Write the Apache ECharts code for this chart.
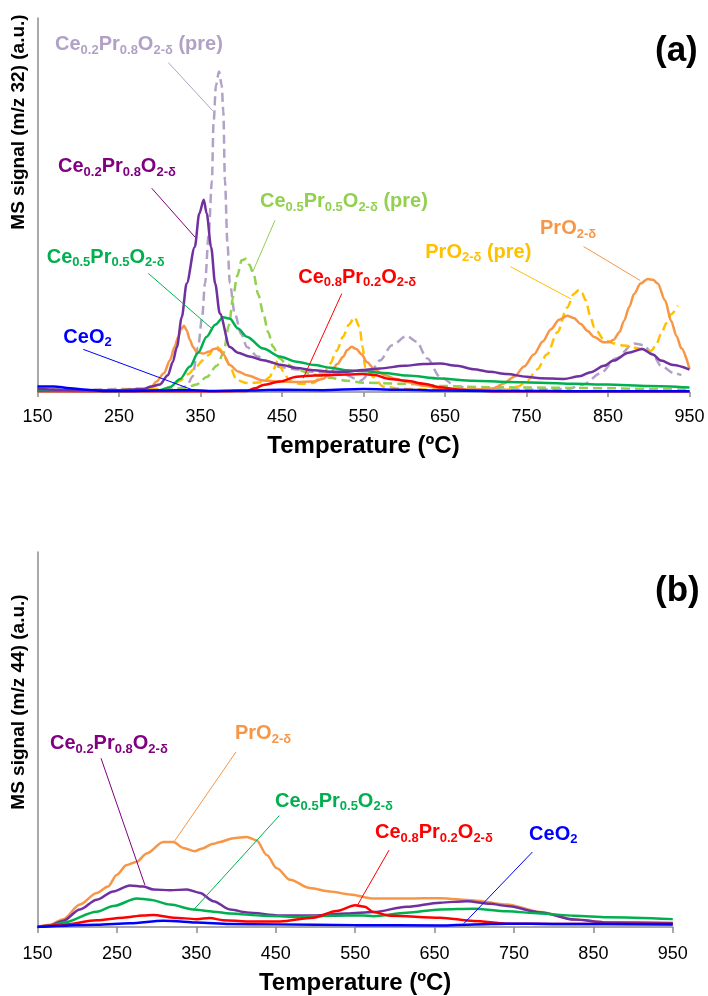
<!DOCTYPE html>
<html><head><meta charset="utf-8">
<script src="https://cdn.jsdelivr.net/npm/echarts@6/dist/echarts.min.js"></script>
<style>html,body{margin:0;padding:0;background:#fff}#c{width:708px;height:996px}</style>
</head><body><div id="c"></div>
<script>
// x-axis tick labels (temperature, ºC)
const xTicks = [150, 250, 350, 450, 550, 650, 750, 850, 950];

// ---------- panel (a): MS signal m/z 32 (a.u., % of axis height) ----------
const a_Ce02Pr08_pre = [[150,0.8],[200,0.5],[250,0.8],[300,0.5],[320,0.8],[333,1.5],[340,4],[347,12],[352,20],[355.5,29],[360,42],[364,56.5],[366,72],[369,82],[372.7,85.7],[376,82],[378,75],[380,56.5],[383,40],[386,29],[392,21],[400,15.5],[407,12],[420,9.5],[435,8],[447,6.7],[468,6],[488,5.4],[509,5],[529,4.5],[546,3],[558,5],[570,8.4],[585,12.5],[603,15],[615,13.5],[628,9],[644,4],[665,1.4],[690,0.8],[750,0.6],[800,0.8],[820,2],[841,5],[860,9],[882,13],[894,12.5],[905,10],[915,7],[931,5],[940,4.5]];
const a_Ce05Pr05_pre = [[150,0.8],[200,0.4],[250,0.3],[300,0.4],[330,0.8],[345,2],[357.6,4],[370,7],[378,10.3],[385,18],[390,25.4],[395,31],[400.5,35.2],[406,35.6],[410,34],[415,31.6],[421,26],[427,21],[433,16],[439,12.1],[447,9],[456,7.4],[470,5.8],[488,4.7],[509,3.8],[530,3.0],[549,2.5],[600,2.2],[650,1.6],[700,1.3],[750,1.2],[800,1.1],[850,1.0],[900,0.8],[950,0.6]];
const a_PrO2_pre = [[150,0.5],[200,0.5],[250,0.5],[272,1],[290,0.8],[305,0.8],[315,1.5],[325,3],[335,4.8],[345,6.8],[353,8.5],[361,10],[365,11.3],[370,12.1],[374,11.5],[378,10.3],[382,8.5],[386,6.8],[394.5,3.2],[407,2.4],[427,2.6],[435,4],[439,5.9],[445,8.5],[451.5,5.5],[458,3.5],[464,2.4],[475,2.2],[488,2.4],[500,4.5],[509,7.6],[517,11],[525,14.8],[532,18],[539,20],[545,17.5],[549,12],[552,6.6],[562,4],[574.5,1.4],[600,0.8],[644,0.6],[685,0.5],[726,0.6],[740,1.5],[751,3.0],[763,6],[775,10],[788,16],[800,22.6],[808,26.2],[814.5,27.3],[818,26.5],[822.7,24.5],[828,20.5],[833,17.3],[845,14],[857,13],[869.6,12.4],[892,11.5],[903,11],[909,12.5],[915,15.5],[922,18.5],[927.5,20.8],[935.7,23.1]];
const a_PrO2 = [[150,0.3],[250,0.3],[280,0.5],[290,1.5],[296,2.8],[305,5],[312.6,8.5],[318,12],[322.8,14.8],[326,16.8],[329.8,17.7],[333,16.5],[337,13.9],[341,12],[345,10.8],[353,10.3],[361,10.8],[366,11.5],[370,11.6],[374,11],[378,10],[386,7.2],[396,5.5],[407,4.5],[427,3.1],[447,2.8],[468,2.7],[488,2.8],[500,3.5],[509,5],[518,7.5],[525,9.4],[530,11.2],[535.5,12.1],[541,11.5],[548,10],[554,8],[564,6],[574.5,4.6],[590,3.5],[603,2.7],[624,1.7],[644,1.0],[665,0.7],[685,0.7],[700,0.8],[710,1.0],[722,2.3],[735,4.1],[747,6.8],[759,10],[770,13.5],[780,16.8],[790,19.3],[800,20.4],[808,19.8],[816.6,18.2],[825,16.3],[833,14.7],[845,13.3],[851,13.3],[857,14],[864,16],[869.6,19],[876,22.7],[882,26.2],[890,29],[898.7,30.2],[905,30],[911,29],[920,24.5],[927.5,19],[934,15],[940,11.7],[950,6.2]];
const a_Ce08Pr02 = [[150,0.3],[300,0.2],[380,0.2],[406.7,0.3],[417,1],[427,1.9],[447.5,2.8],[468,4.1],[490,4.4],[509,4.5],[530,4.7],[549,4.8],[562,4.6],[582,3.5],[603,3.0],[624,2.2],[644,1.3],[665,0.7],[685,0.4],[720,0.2],[800,0.2],[950,0.2]];
const a_Ce05Pr05 = [[150,0.5],[250,0.3],[300,0.5],[312.6,1.3],[325,3.5],[337,6.8],[347,10.5],[357.6,14.8],[368,18],[378,20],[386,19.6],[396,17],[406.7,14.8],[427,11.6],[447,9.5],[468,8.1],[490,7.2],[509,6.5],[530,5.8],[549,5.6],[575,5.1],[603,4.4],[644,3.6],[685,3.0],[726,2.7],[767,2.5],[808,2.2],[849,2.0],[900,1.6],[950,1.2]];
const a_Ce02Pr08 = [[150,0.8],[200,0.5],[250,0.5],[280,0.8],[290,1.5],[300,2],[310,4.5],[316,8],[321,12],[327,20],[333,29],[343,38.8],[348.5,47.7],[354,51.4],[357.6,47.7],[363,38.8],[368,29],[373.7,21],[386,12],[396,10.5],[410,9.5],[427,8.5],[450,7.2],[468,6.4],[490,5.8],[509,5.4],[530,5.4],[549,5.9],[570,6.3],[600,7.0],[624,7.5],[644,7.6],[665,7.0],[685,6.1],[705,5.4],[726,4.8],[750,4.1],[767,3.7],[796,3.5],[815,4.2],[829,5.3],[845,7.0],[857,8.4],[875,10.5],[892,11.5],[905,10],[915,8.4],[930,7.2],[950,6.0]];
const a_CeO2 = [[150,1.5],[170,1.5],[190,1.0],[210,0.6],[230,0.3],[260,0.3],[300,0.4],[340,0.5],[360,0.3],[400,0.4],[450,0.6],[500,0.5],[550,0.8],[600,0.6],[650,0.4],[700,0.3],[750,0.3],[800,0.2],[850,0.2],[900,0.2],[950,0.2]];

// ---------- panel (b): MS signal m/z 44 ----------
const b_PrO2 = [[150,0],[165.7,0.6],[182.5,2.1],[203.5,6.0],[224.6,9.1],[239,10.8],[249.7,13.9],[262,16.5],[275,17.4],[287.5,19.6],[308.4,22.7],[321,22.7],[333.6,21.1],[348.4,20.2],[356.6,20.9],[371.4,22.2],[380,22.7],[396.6,23.7],[413.5,24.0],[426,23.1],[438.7,19.2],[451.3,15.7],[468,12.6],[493,10.4],[518,9.5],[543.6,8.7],[573,7.6],[615,7.6],[657,7.7],[699.5,7.1],[741,6.0],[783.7,4.0],[825.7,2.0],[868,1.2],[910,1.0],[950,1.0]];
const b_Ce02Pr08 = [[150,0],[165,0.4],[182.5,1.7],[203.5,4.7],[224.6,7.3],[245.5,9.5],[266.5,11.1],[283,10.8],[296,10.0],[317,9.8],[338,10.0],[354.7,9.1],[371.4,6.9],[392.5,4.7],[413.5,3.9],[455.4,3.1],[497.4,3.1],[539.4,3.6],[573,4.0],[615,5.4],[657,6.5],[691,6.9],[720,6.2],[741,5.6],[783.7,3.9],[825.7,2.0],[868,1.2],[950,1.1]];
const b_Ce05Pr05 = [[150,0],[165,0.3],[182.5,1.2],[224.6,4.1],[245.5,5.6],[275,7.6],[291.6,7.3],[317,6.0],[346,4.7],[371.4,4.1],[392.5,3.6],[434.3,3.0],[476.3,2.7],[518,3.0],[560,3.1],[573,2.9],[615,3.8],[657,4.7],[699.5,4.9],[741,4.2],[783.7,3.6],[825.7,3.0],[868,2.6],[950,2.1]];
const b_Ce08Pr02 = [[150,0],[163,0.3],[182.5,0.6],[224.6,1.8],[258,2.5],[283,3.1],[296,3.2],[321,2.5],[350.5,2.1],[367,2.4],[384,1.8],[413.5,1.5],[455.4,1.5],[497.4,2.5],[526.8,4.3],[550,5.8],[562,5.4],[573,4.0],[594,3.0],[657,2.5],[699.5,1.6],[741,0.9],[800,0.8],[950,0.8]];
const b_CeO2 = [[150,0],[224.6,0.6],[266.5,1.0],[308.4,1.7],[330,1.5],[350,1.2],[392.5,0.8],[450,0.7],[550,0.5],[657,0.4],[699.5,0.7],[741,0.9],[800,0.8],[950,0.7]];

// ---------- annotation labels (text, anchor [T, signal], leader line) ----------
const annA = {
  Ce02Pr08_pre: {text: [['Ce','0.2'],['Pr','0.8'],['O','2-δ'],[' (pre)','']], at: [171.5,92.8], line: [[310.5,88.1],[365,75.2]]},
  Ce02Pr08:     {text: [['Ce','0.2'],['Pr','0.8'],['O','2-δ']], at: [175.2,60.3], line: [[290.1,54.5],[343.3,41.4]]},
  Ce05Pr05_pre: {text: [['Ce','0.5'],['Pr','0.5'],['O','2-δ'],[' (pre)','']], at: [423,50.9], line: [[441.4,45.9],[414,32.1]]},
  Ce05Pr05:     {text: [['Ce','0.5'],['Pr','0.5'],['O','2-δ']], at: [161.3,36.1], line: [[286,31.7],[363.7,17]]},
  CeO2:         {text: [['CeO','2']], at: [181.7,14.7], line: [[206.2,11.4],[341.2,0.5]]},
  Ce08Pr02:     {text: [['Ce','0.8'],['Pr','0.2'],['O','2-δ']], at: [470,30.7], line: [[523.3,26.3],[476.1,3.7]]},
  PrO2_pre:     {text: [['PrO','2-δ'],[' (pre)','']], at: [625.8,37.4], line: [[730.5,33.5],[804.4,24.9]]},
  PrO2:         {text: [['PrO','2-δ']], at: [766.6,43.6], line: [[820,38.9],[889.6,29.8]]}
};
const annB = {
  Ce02Pr08: {text: [['Ce','0.2'],['Pr','0.8'],['O','2-δ']], at: [165.7,48.9], line: [[230,45],[285.4,11.1]]},
  PrO2:     {text: [['PrO','2-δ']], at: [398.7,51.5], line: [[400,46.7],[321.9,22.7]]},
  Ce05Pr05: {text: [['Ce','0.5'],['Pr','0.5'],['O','2-δ']], at: [449.1,33.6], line: [[454.5,29.7],[347.1,4.7]]},
  Ce08Pr02: {text: [['Ce','0.8'],['Pr','0.2'],['O','2-δ']], at: [575,25.2], line: [[592.7,20.5],[552.9,5.8]]},
  CeO2:     {text: [['CeO','2']], at: [769,24.7], line: [[773.2,20],[686.8,0.9]]}
};

const FONT = '"Liberation Sans", Arial, sans-serif';
const C = {
  Ce02Pr08: '#7030A0', Ce02Pr08lab: '#800080', Ce02Pr08_pre: '#B2A1C7',
  Ce05Pr05: '#00B050', Ce05Pr05_pre: '#92D050',
  Ce08Pr02: '#FF0000', CeO2: '#0000FF', PrO2: '#F79646', PrO2_pre: '#FFC000'
};

function richFor(color) {
  return {
    m: {fontSize: 20, fontWeight: 'bold', fontFamily: FONT, color: color, lineHeight: 24},
    s: {fontSize: 13, fontWeight: 'bold', fontFamily: FONT, color: color, lineHeight: 12, verticalAlign: 'bottom'}
  };
}
function richText(parts) {
  return parts.map(p => '{m|' + p[0] + '}' + (p[1] ? '{s|' + p[1] + '}' : '')).join('');
}

function mkSeries(name, data, color, dashed, gi, ann, labColor) {
  const s = {
    name: name, type: 'line', data: data, xAxisIndex: gi, yAxisIndex: gi,
    showSymbol: false, symbol: 'none', smooth: 0.3, smoothMonotone: 'x',
    lineStyle: {color: color, width: 2.5, type: dashed ? [9, 5] : 'solid'},
    itemStyle: {color: color}, silent: true, z: 2
  };
  if (ann) {
    const lc = labColor || color;
    s.markLine = {
      silent: true, symbol: ['none', 'none'], animation: false,
      lineStyle: {color: lc, width: 1, type: 'solid'}, label: {show: false},
      data: [[{coord: ann.line[0]}, {coord: ann.line[1]}]]
    };
    s.markPoint = {
      silent: true, animation: false, symbol: 'circle', symbolSize: 0,
      itemStyle: {color: 'rgba(0,0,0,0)'},
      label: {show: true, position: 'right', distance: 0, formatter: richText(ann.text), rich: richFor(lc)},
      data: [{coord: ann.at}]
    };
  }
  return s;
}

function xAxisFor(gi, tickLen, labMargin, nameGap) {
  return {
    type: 'value', gridIndex: gi, min: xTicks[0], max: xTicks[xTicks.length - 1], interval: xTicks[1] - xTicks[0],
    name: 'Temperature (ºC)', nameLocation: 'middle', nameGap: nameGap,
    nameTextStyle: {fontSize: 24, fontWeight: 'bold', fontFamily: FONT, color: '#000'},
    axisLine: {show: true, lineStyle: {color: '#8c8c8c', width: 1.5}},
    axisTick: {show: true, inside: false, length: tickLen, lineStyle: {color: '#8c8c8c', width: 1.5}},
    axisLabel: {fontSize: 18, fontFamily: FONT, color: '#000', margin: labMargin},
    splitLine: {show: false}
  };
}
function yAxisFor(gi) {
  return {
    type: 'value', gridIndex: gi, min: 0, max: 100,
    axisLine: {show: true, lineStyle: {color: '#8c8c8c', width: 1.5}},
    axisTick: {show: false}, axisLabel: {show: false}, splitLine: {show: false}
  };
}

const series = [
  mkSeries('Ce0.2Pr0.8O2-δ (pre)', a_Ce02Pr08_pre, C.Ce02Pr08_pre, true, 0, annA.Ce02Pr08_pre),
  mkSeries('Ce0.5Pr0.5O2-δ (pre)', a_Ce05Pr05_pre, C.Ce05Pr05_pre, true, 0, annA.Ce05Pr05_pre),
  mkSeries('PrO2-δ (pre)', a_PrO2_pre, C.PrO2_pre, true, 0, annA.PrO2_pre),
  mkSeries('PrO2-δ', a_PrO2, C.PrO2, false, 0, annA.PrO2),
  mkSeries('Ce0.8Pr0.2O2-δ', a_Ce08Pr02, C.Ce08Pr02, false, 0, annA.Ce08Pr02),
  mkSeries('Ce0.5Pr0.5O2-δ', a_Ce05Pr05, C.Ce05Pr05, false, 0, annA.Ce05Pr05),
  mkSeries('Ce0.2Pr0.8O2-δ', a_Ce02Pr08, C.Ce02Pr08, false, 0, annA.Ce02Pr08, C.Ce02Pr08lab),
  mkSeries('CeO2', a_CeO2, C.CeO2, false, 0, annA.CeO2),
  mkSeries('PrO2-δ', b_PrO2, C.PrO2, false, 1, annB.PrO2),
  mkSeries('Ce0.2Pr0.8O2-δ', b_Ce02Pr08, C.Ce02Pr08, false, 1, annB.Ce02Pr08, C.Ce02Pr08lab),
  mkSeries('Ce0.5Pr0.5O2-δ', b_Ce05Pr05, C.Ce05Pr05, false, 1, annB.Ce05Pr05),
  mkSeries('Ce0.8Pr0.2O2-δ', b_Ce08Pr02, C.Ce08Pr02, false, 1, annB.Ce08Pr02),
  mkSeries('CeO2', b_CeO2, C.CeO2, false, 1, annB.CeO2)
];

const chart = echarts.init(document.getElementById('c'), null, {renderer: 'canvas'});
chart.setOption({
  animation: false,
  backgroundColor: '#fff',
  grid: [
    {left: 37.5, right: 18.5, top: 18, height: 374},
    {left: 37.5, right: 35.2, top: 552, height: 381}
  ],
  xAxis: [xAxisFor(0, 5, 16, 42), xAxisFor(1, 6, 18, 44)],
  yAxis: [yAxisFor(0), yAxisFor(1)],
  series: series,
  graphic: [
    {type: 'text', x: 19, y: 122, rotation: Math.PI / 2, style: {text: 'MS signal (m/z 32) (a.u.)', font: 'bold 19px ' + FONT, fill: '#000', align: 'center', verticalAlign: 'middle'}},
    {type: 'text', x: 19, y: 702, rotation: Math.PI / 2, style: {text: 'MS signal (m/z 44) (a.u.)', font: 'bold 19px ' + FONT, fill: '#000', align: 'center', verticalAlign: 'middle'}},
    {type: 'text', x: 655, y: 51, style: {text: '(a)', font: 'bold 35px ' + FONT, fill: '#000', align: 'left', verticalAlign: 'middle'}},
    {type: 'text', x: 655, y: 591, style: {text: '(b)', font: 'bold 35px ' + FONT, fill: '#000', align: 'left', verticalAlign: 'middle'}}
  ]
});
</script>
</body></html>
